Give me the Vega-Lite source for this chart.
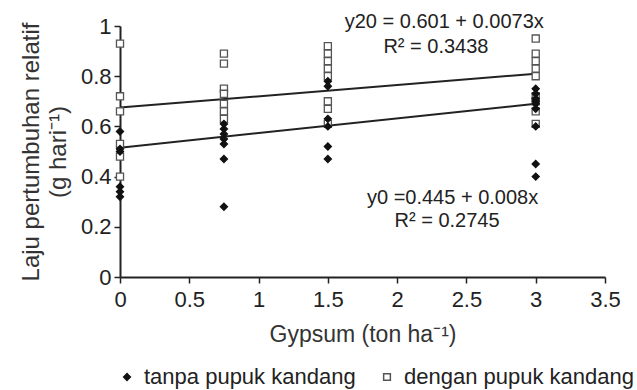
{
  "$schema": "https://vega.github.io/schema/vega-lite/v6.json",
  "width": 485,
  "height": 251,
  "autosize": {"type": "none"},
  "padding": {"left": 120, "top": 26, "right": 32, "bottom": 113},
  "background": "white",
  "config": {
    "font": "Liberation Sans",
    "view": {"stroke": null},
    "axis": {"grid": false, "domainColor": "#222", "tickColor": "#222", "domainWidth": 2, "tickWidth": 1.5, "labelColor": "#222", "titleColor": "#333", "labelFont": "Liberation Sans", "titleFont": "Liberation Sans", "titleFontWeight": "normal"}
  },
  "datasets": {
    "pts": [
      {"x": 0, "y": 0.93, "s": "dengan pupuk kandang"},
      {"x": 0, "y": 0.72, "s": "dengan pupuk kandang"},
      {"x": 0, "y": 0.66, "s": "dengan pupuk kandang"},
      {"x": 0, "y": 0.53, "s": "dengan pupuk kandang"},
      {"x": 0, "y": 0.48, "s": "dengan pupuk kandang"},
      {"x": 0, "y": 0.40, "s": "dengan pupuk kandang"},
      {"x": 0, "y": 0.58, "s": "tanpa pupuk kandang"},
      {"x": 0, "y": 0.51, "s": "tanpa pupuk kandang"},
      {"x": 0, "y": 0.50, "s": "tanpa pupuk kandang"},
      {"x": 0, "y": 0.36, "s": "tanpa pupuk kandang"},
      {"x": 0, "y": 0.34, "s": "tanpa pupuk kandang"},
      {"x": 0, "y": 0.32, "s": "tanpa pupuk kandang"},
      {"x": 0.75, "y": 0.89, "s": "dengan pupuk kandang"},
      {"x": 0.75, "y": 0.85, "s": "dengan pupuk kandang"},
      {"x": 0.75, "y": 0.75, "s": "dengan pupuk kandang"},
      {"x": 0.75, "y": 0.73, "s": "dengan pupuk kandang"},
      {"x": 0.75, "y": 0.69, "s": "dengan pupuk kandang"},
      {"x": 0.75, "y": 0.66, "s": "dengan pupuk kandang"},
      {"x": 0.75, "y": 0.63, "s": "dengan pupuk kandang"},
      {"x": 0.75, "y": 0.61, "s": "tanpa pupuk kandang"},
      {"x": 0.75, "y": 0.59, "s": "tanpa pupuk kandang"},
      {"x": 0.75, "y": 0.57, "s": "tanpa pupuk kandang"},
      {"x": 0.75, "y": 0.55, "s": "tanpa pupuk kandang"},
      {"x": 0.75, "y": 0.53, "s": "tanpa pupuk kandang"},
      {"x": 0.75, "y": 0.47, "s": "tanpa pupuk kandang"},
      {"x": 0.75, "y": 0.28, "s": "tanpa pupuk kandang"},
      {"x": 1.5, "y": 0.92, "s": "dengan pupuk kandang"},
      {"x": 1.5, "y": 0.89, "s": "dengan pupuk kandang"},
      {"x": 1.5, "y": 0.86, "s": "dengan pupuk kandang"},
      {"x": 1.5, "y": 0.83, "s": "dengan pupuk kandang"},
      {"x": 1.5, "y": 0.80, "s": "dengan pupuk kandang"},
      {"x": 1.5, "y": 0.70, "s": "dengan pupuk kandang"},
      {"x": 1.5, "y": 0.67, "s": "dengan pupuk kandang"},
      {"x": 1.5, "y": 0.61, "s": "dengan pupuk kandang"},
      {"x": 1.5, "y": 0.78, "s": "tanpa pupuk kandang"},
      {"x": 1.5, "y": 0.76, "s": "tanpa pupuk kandang"},
      {"x": 1.5, "y": 0.63, "s": "tanpa pupuk kandang"},
      {"x": 1.5, "y": 0.60, "s": "tanpa pupuk kandang"},
      {"x": 1.5, "y": 0.52, "s": "tanpa pupuk kandang"},
      {"x": 1.5, "y": 0.47, "s": "tanpa pupuk kandang"},
      {"x": 3, "y": 0.95, "s": "dengan pupuk kandang"},
      {"x": 3, "y": 0.89, "s": "dengan pupuk kandang"},
      {"x": 3, "y": 0.86, "s": "dengan pupuk kandang"},
      {"x": 3, "y": 0.83, "s": "dengan pupuk kandang"},
      {"x": 3, "y": 0.80, "s": "dengan pupuk kandang"},
      {"x": 3, "y": 0.72, "s": "dengan pupuk kandang"},
      {"x": 3, "y": 0.70, "s": "dengan pupuk kandang"},
      {"x": 3, "y": 0.66, "s": "dengan pupuk kandang"},
      {"x": 3, "y": 0.61, "s": "dengan pupuk kandang"},
      {"x": 3, "y": 0.75, "s": "tanpa pupuk kandang"},
      {"x": 3, "y": 0.73, "s": "tanpa pupuk kandang"},
      {"x": 3, "y": 0.71, "s": "tanpa pupuk kandang"},
      {"x": 3, "y": 0.70, "s": "tanpa pupuk kandang"},
      {"x": 3, "y": 0.69, "s": "tanpa pupuk kandang"},
      {"x": 3, "y": 0.67, "s": "tanpa pupuk kandang"},
      {"x": 3, "y": 0.60, "s": "tanpa pupuk kandang"},
      {"x": 3, "y": 0.45, "s": "tanpa pupuk kandang"},
      {"x": 3, "y": 0.40, "s": "tanpa pupuk kandang"}
    ],
    "fit": [
      {"x": 0, "y": 0.515, "line": "y0"},
      {"x": 3, "y": 0.69, "line": "y0"},
      {"x": 0, "y": 0.675, "line": "y20"},
      {"x": 3, "y": 0.81, "line": "y20"}
    ],
    "notes": [
      {"x": 2.34, "y": 1.015, "t": "y20 = 0.601 + 0.0073x"},
      {"x": 2.28, "y": 0.918, "t": "R² = 0.3438"},
      {"x": 2.4, "y": 0.315, "t": "y0 =0.445 + 0.008x"},
      {"x": 2.36, "y": 0.222, "t": "R² = 0.2745"}
    ]
  },
  "layer": [
    {
      "data": {"name": "fit"},
      "mark": {"type": "line", "color": "#222", "strokeWidth": 2},
      "encoding": {
        "x": {"field": "x", "type": "quantitative"},
        "y": {"field": "y", "type": "quantitative"},
        "detail": {"field": "line"}
      }
    },
    {
      "data": {"name": "pts"},
      "mark": {"type": "point", "size": 50, "strokeWidth": 1.3, "opacity": 1},
      "encoding": {
        "x": {
          "field": "x", "type": "quantitative",
          "scale": {"domain": [0, 3.5], "nice": false, "zero": false},
          "axis": {"values": [0, 0.5, 1, 1.5, 2, 2.5, 3, 3.5], "format": "~g", "labelFontSize": 22, "tickSize": 6, "labelPadding": 6, "titleFontSize": 23, "titlePadding": 13, "labelFlush": false},
          "title": "Gypsum (ton ha⁻¹)"
        },
        "y": {
          "field": "y", "type": "quantitative",
          "scale": {"domain": [0, 1], "nice": false},
          "axis": {"values": [0, 0.2, 0.4, 0.6, 0.8, 1], "format": "~g", "labelFontSize": 22, "tickSize": 6, "labelPadding": 3, "titleFontSize": 24, "titlePadding": 10, "labelFlush": false, "titleLineHeight": 27},
          "title": ["Laju pertumbuhan relatif", "(g hari⁻¹)"]
        },
        "shape": {
          "field": "s", "type": "nominal",
          "scale": {"domain": ["tanpa pupuk kandang", "dengan pupuk kandang"], "range": ["diamond", "square"]},
          "legend": {"title": null, "orient": "none", "legendX": -4, "legendY": 340, "direction": "horizontal", "labelFontSize": 22, "labelColor": "#222", "symbolSize": 45, "columnPadding": 20, "labelOffset": 6, "labelLimit": 400}
        },
        "fill": {
          "field": "s", "type": "nominal",
          "scale": {"domain": ["tanpa pupuk kandang", "dengan pupuk kandang"], "range": ["#111", "white"]},
          "legend": {"title": null, "orient": "none", "legendX": -4, "legendY": 340, "direction": "horizontal", "labelFontSize": 22, "labelColor": "#222", "symbolSize": 45, "columnPadding": 20, "labelOffset": 6, "labelLimit": 400}
        },
        "stroke": {
          "field": "s", "type": "nominal",
          "scale": {"domain": ["tanpa pupuk kandang", "dengan pupuk kandang"], "range": ["#111", "#555"]},
          "legend": {"title": null, "orient": "none", "legendX": -4, "legendY": 340, "direction": "horizontal", "labelFontSize": 22, "labelColor": "#222", "symbolSize": 45, "columnPadding": 20, "labelOffset": 6, "labelLimit": 400}
        }
      }
    },
    {
      "data": {"name": "notes"},
      "mark": {"type": "text", "fontSize": 20, "color": "#222", "align": "center", "baseline": "middle"},
      "encoding": {
        "x": {"field": "x", "type": "quantitative"},
        "y": {"field": "y", "type": "quantitative"},
        "text": {"field": "t"}
      }
    }
  ]
}
